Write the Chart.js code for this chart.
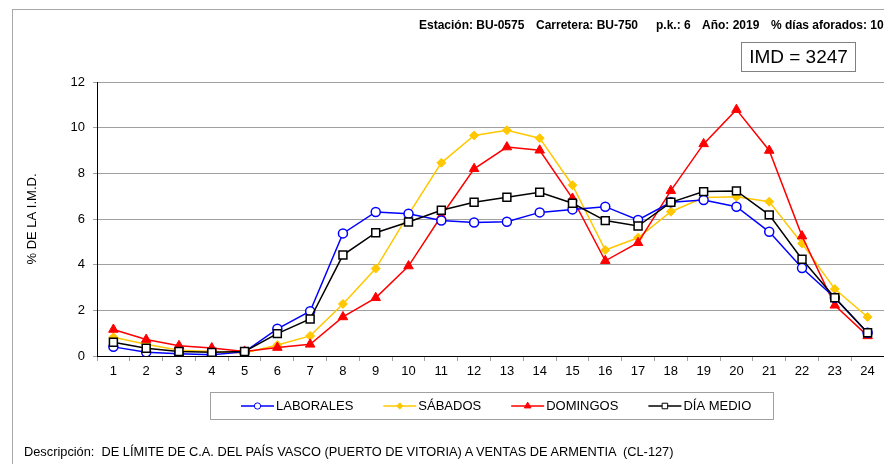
<!DOCTYPE html>
<html>
<head>
<meta charset="utf-8">
<script src="https://cdn.jsdelivr.net/npm/chart.js@4/dist/chart.umd.min.js"></script>
<style>
  html, body { margin: 0; padding: 0; background: #fff; }
  body { width: 884px; height: 464px; overflow: hidden; position: relative; font-family: "Liberation Sans", Arial, sans-serif; }
  #wrap { position: absolute; left: 0; top: 0; width: 884px; height: 464px; }
  .frame-top { position: absolute; left: 12px; top: 9px; width: 872px; height: 1px; background: #a8a8a8; }
  .frame-left { position: absolute; left: 12px; top: 9px; width: 1px; height: 455px; background: #a8a8a8; }
  .hdr { position: absolute; top: 18px; font-size: 12px; font-weight: bold; white-space: pre; line-height: 14px; }
  #imd { position: absolute; left: 741px; top: 42px; width: 113px; height: 28px; border: 1px solid #808080; font-size: 19px; line-height: 28px; text-align: center; }
  #desc { position: absolute; left: 24px; top: 445px; font-size: 12.8px; white-space: pre; line-height: 14px; }
</style>
</head>
<body>
<div id="wrap"><canvas id="grafico" width="884" height="464"></canvas></div>
<div class="frame-top"></div>
<div class="frame-left"></div>
<span class="hdr" style="left:419px">Estación: BU-0575</span>
<span class="hdr" style="left:536px">Carretera: BU-750</span>
<span class="hdr" style="left:656px">p.k.: 6</span>
<span class="hdr" style="left:702px">Año: 2019</span>
<span class="hdr" style="left:771px">% días aforados: 100</span>
<div id="imd">IMD = 3247</div>
<div id="desc">Descripción:  DE LÍMITE DE C.A. DEL PAÍS VASCO (PUERTO DE VITORIA) A VENTAS DE ARMENTIA  (CL-127)</div>

<script>
const horas = ["1", "2", "3", "4", "5", "6", "7", "8", "9", "10", "11", "12",
  "13", "14", "15", "16", "17", "18", "19", "20", "21", "22", "23", "24"];

const laborales = [0.40, 0.16, 0.10, 0.06, 0.18, 1.19, 1.96, 5.37, 6.31, 6.23, 5.93, 5.85,
  5.88, 6.29, 6.42, 6.54, 5.96, 6.73, 6.83, 6.54, 5.44, 3.85, 2.55, 1.02];
const sabados = [0.82, 0.51, 0.25, 0.20, 0.13, 0.48, 0.88, 2.28, 3.83, 6.20, 8.46, 9.66,
  9.89, 9.54, 7.48, 4.64, 5.18, 6.32, 6.94, 6.97, 6.76, 4.93, 2.93, 1.71];
const domingos = [1.16, 0.72, 0.45, 0.35, 0.20, 0.37, 0.51, 1.71, 2.55, 3.94, 6.13, 8.20,
  9.15, 9.01, 6.90, 4.17, 4.96, 7.24, 9.29, 10.79, 9.00, 5.25, 2.22, 0.88];
const diaMedio = [0.60, 0.34, 0.20, 0.16, 0.20, 0.98, 1.62, 4.42, 5.40, 5.87, 6.38, 6.73,
  6.95, 7.17, 6.69, 5.93, 5.69, 6.73, 7.20, 7.23, 6.18, 4.24, 2.55, 1.02];

const yTicks = [0, 2, 4, 6, 8, 10, 12];
const FONT = '"Liberation Sans", Arial, sans-serif';

Chart.defaults.font.family = FONT;
Chart.defaults.color = "#000";

// leyenda propia: caja con línea y marcador en medio
const leyendaCaja = {
  id: "leyendaCaja",
  afterDraw(chart) {
    const ctx = chart.ctx;
    ctx.save();
    ctx.strokeStyle = "#a0a0a0";
    ctx.lineWidth = 1;
    ctx.strokeRect(210.5, 392.5, 563, 27);
    ctx.font = "13px " + FONT;
    ctx.textBaseline = "middle";
    let x = 241;
    const y = 406;
    for (const ds of chart.data.datasets) {
      ctx.strokeStyle = ds.borderColor;
      ctx.lineWidth = 1.5;
      ctx.beginPath();
      ctx.moveTo(x, y);
      ctx.lineTo(x + 33, y);
      ctx.stroke();
      ctx.fillStyle = ds.pointBackgroundColor;
      ctx.strokeStyle = ds.pointBorderColor;
      ctx.lineWidth = 1;
      Chart.helpers.drawPoint(ctx, {
        pointStyle: ds.pointStyle,
        radius: ds.pointRadius * 0.7,
        rotation: 0,
        borderWidth: 1,
      }, x + 16.5, y);
      ctx.fillStyle = "#000";
      ctx.fillText(ds.label, x + 35, y + 0.5);
      x += 35 + ctx.measureText(ds.label).width + 30;
    }
    ctx.restore();
  },
};

const ctx = document.querySelector("#grafico").getContext("2d");
const chart = new Chart(ctx, {
  type: "line",
  data: {
    labels: horas,
    datasets: [
      {
        label: "LABORALES",
        data: laborales,
        borderColor: "#0000ff",
        borderWidth: 1.5,
        pointStyle: "circle",
        pointRadius: 4.5,
        pointBackgroundColor: "#fff",
        pointBorderColor: "#0000ff",
        pointBorderWidth: 1.5,
        order: 1,
      },
      {
        label: "SÁBADOS",
        data: sabados,
        borderColor: "#ffc800",
        borderWidth: 1.5,
        pointStyle: "rectRot",
        pointRadius: 4.5,
        pointBackgroundColor: "#ffc800",
        pointBorderColor: "#ffc800",
        pointBorderWidth: 1,
        order: 3,
      },
      {
        label: "DOMINGOS",
        data: domingos,
        borderColor: "#ff0000",
        borderWidth: 1.5,
        pointStyle: "triangle",
        pointRadius: 5.5,
        pointBackgroundColor: "#ff0000",
        pointBorderColor: "#ff0000",
        pointBorderWidth: 1,
        order: 2,
      },
      {
        label: "DÍA MEDIO",
        data: diaMedio,
        borderColor: "#000000",
        borderWidth: 1.5,
        pointStyle: "rect",
        pointRadius: 5.6,
        pointBackgroundColor: "#fff",
        pointBorderColor: "#000",
        pointBorderWidth: 1.5,
        order: 0,
      },
    ],
  },
  options: {
    responsive: false,
    animation: false,
    devicePixelRatio: 1,
    layout: { autoPadding: false, padding: { top: 82, left: 0, right: 0, bottom: 0 } },
    elements: { line: { tension: 0 } },
    plugins: {
      legend: { display: false },
      tooltip: { enabled: false },
    },
    scales: {
      x: {
        offset: true,
        afterFit(scale) {
          scale.height = 108;
          scale.paddingLeft = 0;
          scale.paddingRight = 0;
        },
        grid: {
          offset: true,
          drawOnChartArea: false,
          drawTicks: true,
          tickLength: 5,
          tickColor: "#a0a0a0",
        },
        border: { color: "#000", width: 1 },
        ticks: { font: { size: 13 }, padding: 3, maxRotation: 0, autoSkip: false },
      },
      y: {
        min: 0,
        max: 12,
        afterFit(scale) {
          scale.width = 97;
        },
        afterBuildTicks(scale) {
          scale.ticks = yTicks.map((v) => ({ value: v }));
        },
        grid: {
          color: "#a0a0a0",
          tickColor: "#a0a0a0",
          tickLength: 4,
        },
        border: { color: "#000", width: 1 },
        ticks: { font: { size: 13 }, padding: 8 },
        title: {
          display: true,
          text: "% DE LA I.M.D.",
          font: { size: 13 },
          padding: { top: 25, bottom: 0 },
        },
      },
    },
  },
  plugins: [leyendaCaja],
});
</script>
</body>
</html>
